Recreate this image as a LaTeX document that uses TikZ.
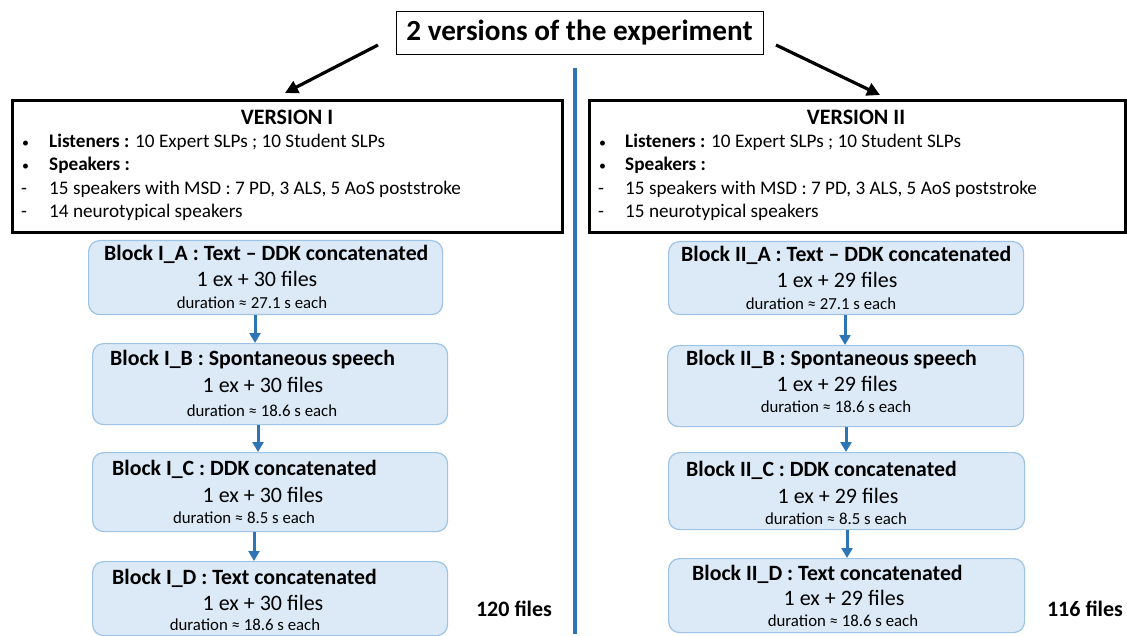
\documentclass[tikz,border=0pt]{standalone}
\usepackage{fontspec}
\setmainfont{Carlito}
\usetikzlibrary{arrows.meta}
\definecolor{blkfill}{HTML}{DCEAF7}
\definecolor{blkdraw}{HTML}{9DC3E6}
\definecolor{myblue}{HTML}{2E75B6}
\tikzset{
  blk/.style={draw=blkdraw, fill=blkfill, line width=1.2pt, rounded corners=11pt, anchor=north west, inner sep=0pt},
  vbox/.style={draw=black, line width=3pt, anchor=north west, inner sep=0pt},
  btitle/.style={font=\fontsize{21.8}{24}\selectfont\bfseries, anchor=west, inner sep=0pt, text height=16pt, text depth=4pt},
  bfiles/.style={font=\fontsize{22}{26}\selectfont, inner sep=0pt, text height=16pt, text depth=4pt},
  bdur/.style={font=\fontsize{16.8}{19}\selectfont, inner sep=0pt, text height=12pt, text depth=3pt},
  vtitle/.style={font=\fontsize{22}{25}\selectfont\bfseries, inner sep=0pt, text height=15pt, text depth=4pt},
  vline/.style={font=\fontsize{19.2}{22}\selectfont, anchor=west, inner sep=0pt, text height=14pt, text depth=4pt},
  vbul/.style={font=\fontsize{14}{16}\selectfont, anchor=west, inner sep=0pt, text height=14pt, text depth=4pt},
  blar/.style={draw=myblue, line width=3pt, -{Triangle[length=10pt,width=11pt]}},
  bkar/.style={draw=black, line width=3.2pt, -{Triangle[length=13pt,width=13pt]}},
  total/.style={font=\fontsize{22}{26}\selectfont\bfseries, inner sep=0pt}
}
\begin{document}
\begin{tikzpicture}[x=1pt,y=-1pt]
\useasboundingbox (0,0) rectangle (1127,636);
% title
\node[draw=black, line width=1pt, minimum width=367pt, minimum height=43pt, inner sep=0pt, font=\fontsize{29.2}{32}\selectfont\bfseries] (title) at (579.5,33) {2 versions of the experiment};
\coordinate (l0) at (378,45);
\coordinate (l1) at (285,93);
\coordinate (r0) at (776,45);
\coordinate (r1) at (880,95);
\draw[bkar] (l0) -- (l1);
\draw[bkar] (r0) -- (r1);
% separator
\coordinate (s0) at (575,68);
\coordinate (s1) at (575,634);
\draw[myblue, line width=4pt] (s0) -- (s1);
% version boxes
\node[vbox, minimum width=550pt, minimum height=132pt] (v1) at (11,99) {};
\node[vtitle] at (287,119) {VERSION I};
\node[vbul] at (22,143) {•};
\node[vline] at (49,143) {\textbf{Listeners :} 10 Expert SLPs ; 10 Student SLPs};
\node[vbul] at (22,166) {•};
\node[vline] at (49,166) {\textbf{Speakers :}};
\node[vline] at (21,190) {-};
\node[vline] at (49,190) {15 speakers with MSD : 7 PD, 3 ALS, 5 AoS poststroke};
\node[vline] at (21,213) {-};
\node[vline] at (49,213) {14 neurotypical speakers};

\node[vbox, minimum width=536pt, minimum height=132pt] (v2) at (588,99) {};
\node[vtitle] at (856,119) {VERSION II};
\node[vbul] at (599,143) {•};
\node[vline] at (625,143) {\textbf{Listeners :} 10 Expert SLPs ; 10 Student SLPs};
\node[vbul] at (599,166) {•};
\node[vline] at (625,166) {\textbf{Speakers :}};
\node[vline] at (598,190) {-};
\node[vline] at (625,190) {15 speakers with MSD : 7 PD, 3 ALS, 5 AoS poststroke};
\node[vline] at (598,213) {-};
\node[vline] at (625,213) {15 neurotypical speakers};

% left blocks
\node[blk, minimum width=354pt, minimum height=74pt] (ia) at (88,240) {};
\node[btitle] at (104,255) {Block I\_A : Text – DDK concatenated};
\node[bfiles] at (257,281) {1 ex + 30 files};
\node[bdur] at (252,304) {duration ≈ 27.1 s each};

\node[blk, minimum width=355pt, minimum height=81pt] (ib) at (92,343) {};
\node[btitle] at (110,359) {Block I\_B : Spontaneous speech};
\node[bfiles] at (263,386) {1 ex + 30 files};
\node[bdur] at (262,412) {duration ≈ 18.6 s each};

\node[blk, minimum width=355pt, minimum height=79pt] (ic) at (92,452) {};
\node[btitle] at (112,469) {Block I\_C : DDK concatenated};
\node[bfiles] at (263,496) {1 ex + 30 files};
\node[bdur] at (244,519) {duration ≈ 8.5 s each};

\node[blk, minimum width=355pt, minimum height=74pt] (id) at (92,561) {};
\node[btitle] at (112,578) {Block I\_D : Text concatenated};
\node[bfiles] at (263,604) {1 ex + 30 files};
\node[bdur] at (245,626) {duration ≈ 18.6 s each};

\node[total] (t1) at (514,609) {120 files};

\draw[blar] (ia.south -| 255,0) -- (ib.north -| 255,0);
\draw[blar] (ib.south -| 258,0) -- (ic.north -| 258,0);
\draw[blar] (ic.south -| 254,0) -- (id.north -| 254,0);

% right blocks
\node[blk, minimum width=355pt, minimum height=73pt] (iia) at (668,241) {};
\node[btitle] at (681,256) {Block II\_A : Text – DDK concatenated};
\node[bfiles] at (837,282) {1 ex + 29 files};
\node[bdur] at (821,305) {duration ≈ 27.1 s each};

\node[blk, minimum width=356pt, minimum height=81pt] (iib) at (667,345) {};
\node[btitle] at (686,359) {Block II\_B : Spontaneous speech};
\node[bfiles] at (837,385) {1 ex + 29 files};
\node[bdur] at (836,408) {duration ≈ 18.6 s each};

\node[blk, minimum width=356pt, minimum height=77pt] (iic) at (668,452) {};
\node[btitle] at (686,470) {Block II\_C : DDK concatenated};
\node[bfiles] at (838,497) {1 ex + 29 files};
\node[bdur] at (836,520) {duration ≈ 8.5 s each};

\node[blk, minimum width=356pt, minimum height=74pt] (iid) at (668,558) {};
\node[btitle] at (692,574) {Block II\_D : Text concatenated};
\node[bfiles] at (844,599) {1 ex + 29 files};
\node[bdur] at (843,622) {duration ≈ 18.6 s each};

\node[total] (t2) at (1085,609) {116 files};

\draw[blar] (iia.south -| 845,0) -- (iib.north -| 845,0);
\draw[blar] (iib.south -| 846,0) -- (iic.north -| 846,0);
\draw[blar] (iic.south -| 847,0) -- (iid.north -| 847,0);
\end{tikzpicture}
\end{document}
